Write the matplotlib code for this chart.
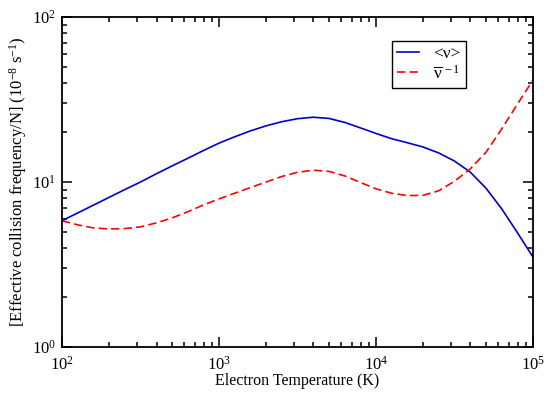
import numpy as np
import matplotlib
matplotlib.use("Agg")
import matplotlib.pyplot as plt

plt.rcParams["font.family"] = ["Liberation Serif", "DejaVu Serif"]
plt.rcParams["mathtext.fontset"] = "custom"
plt.rcParams["mathtext.rm"] = "Liberation Serif"
plt.rcParams["mathtext.it"] = "Liberation Serif:italic"

# log10 of electron temperature (K)
log_t = [2.0, 2.1, 2.2, 2.3, 2.4, 2.5, 2.6, 2.7, 2.8, 2.9,
         3.0, 3.1, 3.2, 3.3, 3.4, 3.5, 3.6, 3.7, 3.8, 3.9,
         4.0, 4.1, 4.2, 4.3, 4.4, 4.5, 4.6, 4.7, 4.8, 4.9, 5.0]
# <nu>
nu_mean = [5.83, 6.49, 7.24, 8.07, 9.0, 10.0, 11.2, 12.5, 13.9, 15.5,
           17.2, 18.8, 20.4, 21.9, 23.2, 24.2, 24.7, 24.3, 23.0, 21.3,
           19.7, 18.3, 17.3, 16.3, 15.0, 13.4, 11.5, 9.2, 6.9, 4.95, 3.51]
# nu-bar ^-1
nu_inv = [5.83, 5.5, 5.27, 5.19, 5.22, 5.35, 5.65, 6.05, 6.6, 7.25,
          7.9, 8.55, 9.25, 10.0, 10.8, 11.45, 11.8, 11.6, 10.9, 9.95,
          9.1, 8.55, 8.28, 8.3, 8.85, 10.1, 12.0, 15.1, 20.9, 29.5, 41.5]

temp = 10 ** np.array(log_t)

fig = plt.figure(figsize=(5.5, 3.96), dpi=100)
ax = fig.add_axes([0.1127, 0.1237, 0.8563, 0.8333])

ax.plot(temp, nu_mean, color="#0000cc", lw=1.2, label="<ν>")
line, = ax.plot(temp, nu_inv, color="#ff0000", lw=1.2,
                label=r"$\overline{\mathrm{\nu}}^{\,-1}$")
line.set_dashes((5, 2.5))

ax.set_xscale("log")
ax.set_yscale("log")
ax.set_xlim(1e2, 1e5)
ax.set_ylim(1e0, 1e2)

ax.tick_params(which="both", direction="in", top=True, right=True, labelsize=12, width=1.1)
ax.tick_params(which="major", length=7)
ax.tick_params(which="minor", length=3.5)
ax.tick_params(axis="x", pad=6)
ax.tick_params(axis="y", pad=4)
for s in ax.spines.values():
    s.set_linewidth(1.3)

ax.set_xlabel("Electron Temperature (K)", fontsize=11.5, labelpad=0)
ax.set_ylabel(r"[Effective collision frequency/N] (10$^{-8}$ s$^{-1}$)", fontsize=12, labelpad=2)

leg = ax.legend(loc="upper left", bbox_to_anchor=(0.70, 0.927), fontsize=12.5,
                fancybox=False, framealpha=1, edgecolor="black", handlelength=1.3,
                handletextpad=0.8, borderpad=0.3, labelspacing=0.15, borderaxespad=0)
leg.get_frame().set_linewidth(1)

fig.savefig("out.png", dpi=100)
